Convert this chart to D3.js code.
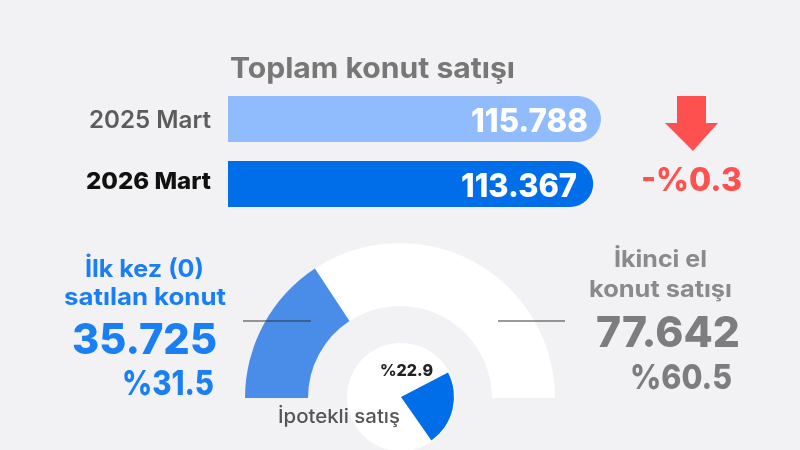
<!DOCTYPE html>
<html><head><meta charset="utf-8">
<script src="https://cdn.jsdelivr.net/npm/d3@7"></script>
<style>html,body{margin:0;padding:0;background:#f2f2f4;overflow:hidden}svg{display:block;filter:blur(.7px)}text{font-family:Inter,"Open Sans",sans-serif}</style>
</head><body><svg id="c" width="800" height="450"></svg>
<script>
const barLabels=["2025 Mart","2026 Mart"];
const barValues=[115788,113367];
const barText=["115.788","113.367"];
const gaugeShare=[31.5];
const mortgageShare=[22.9];
const svg=d3.select("#c");
const x=d3.scaleLinear().domain([0,115788]).range([228,601]);
const y=d3.scaleBand().domain(barLabels).range([96,207]).paddingInner(.29);
const blues=["#90bbfd","#006de9"];
const labelStyle=[{c:"#5c5c5c",w:600,s:24,by:128,x0:89},{c:"#111",w:800,s:23,by:189,x0:86}];
const valStyle=[{s:471,e:588,by:132},{s:461,e:577,by:197}];

// place text between two x extents so its width follows the reference
function T(t,x0,x1,by,s,w,c){return svg.append("text").text(t).attr("x",x0).attr("y",by)
 .attr("textLength",x1-x0).attr("lengthAdjust","spacingAndGlyphs")
 .attr("font-size",s).attr("font-weight",w).attr("fill",c);}

T("Toplam konut satışı",230,515,78,29,700,"#777");

barLabels.forEach((l,i)=>{
 const x0=x(0),x1=x(barValues[i]),t=y(l),h=y.bandwidth(),r=h/2,p=d3.path();
 p.moveTo(x0,t);p.lineTo(x1-r,t);p.arc(x1-r,t+r,r,-Math.PI/2,Math.PI/2);p.lineTo(x0,t+h);p.closePath();
 svg.append("path").attr("d",p.toString()).attr("fill",blues[i]);
 const ls=labelStyle[i];
 T(l,ls.x0,211,ls.by,ls.s,ls.w,ls.c);
 const vs=valStyle[i];
 T(barText[i],vs.s,vs.e,vs.by,33,800,"#fff");
});

const line=d3.line();
svg.append("path").attr("d",line([[677,96],[706,96],[706,123],[718,123],[693,151],[665,123],[677,123]])+"Z").attr("fill","#ff5050");
T("-%0.3",641,742,191,32,800,"#ff5050");

// outer gauge
const cx=400,cy=398;
const ang=d3.scaleLinear().domain([0,100]).range([-Math.PI/2,Math.PI/2]);
const ga=d3.arc().innerRadius(92).outerRadius(155);
const g=svg.append("g").attr("transform",`translate(${cx},${cy})`);
g.append("path").attr("d",ga({startAngle:ang(0),endAngle:ang(100)})).attr("fill","#fff");
g.append("path").attr("d",ga({startAngle:ang(0),endAngle:ang(gaugeShare[0])})).attr("fill","#4a8de8");

// inner pie
const pieAng=d3.scaleLinear().domain([0,100]).range([0,2*Math.PI]);
const g2=svg.append("g").attr("transform","translate(401,397)");
g2.append("circle").attr("r",54).attr("fill","#fff");
const start=62.5*Math.PI/180;
g2.append("path").attr("d",d3.arc().innerRadius(0).outerRadius(53)({startAngle:start,endAngle:start+pieAng(mortgageShare[0])})).attr("fill","#006de9");

[[243,311],[498,565]].forEach(d=>svg.append("line").attr("x1",d[0]).attr("x2",d[1]).attr("y1",321).attr("y2",321).attr("stroke","#333").attr("stroke-opacity",.65).attr("stroke-width",1.4));

T("%22.9",380,433,376,16,800,"#222");
T("İpotekli satış",278,400,423,19,500,"#555");

const blue="#1a7ff3",grey="#7d7d7f";
T("İlk kez (0)",85,204,277,24,700,blue);
T("satılan konut",64,226,305,24,700,blue);
T("35.725",72,217,354,43,800,blue);
T("%31.5",122,214,395,34,800,blue);
T("İkinci el",614,707,267,23,700,"#8a8a8c");
T("konut satışı",589,732,297,23,700,"#8a8a8c");
T("77.642",596,740,347,43,800,grey);
T("%60.5",630,732,389,34,800,grey);
</script></body></html>
